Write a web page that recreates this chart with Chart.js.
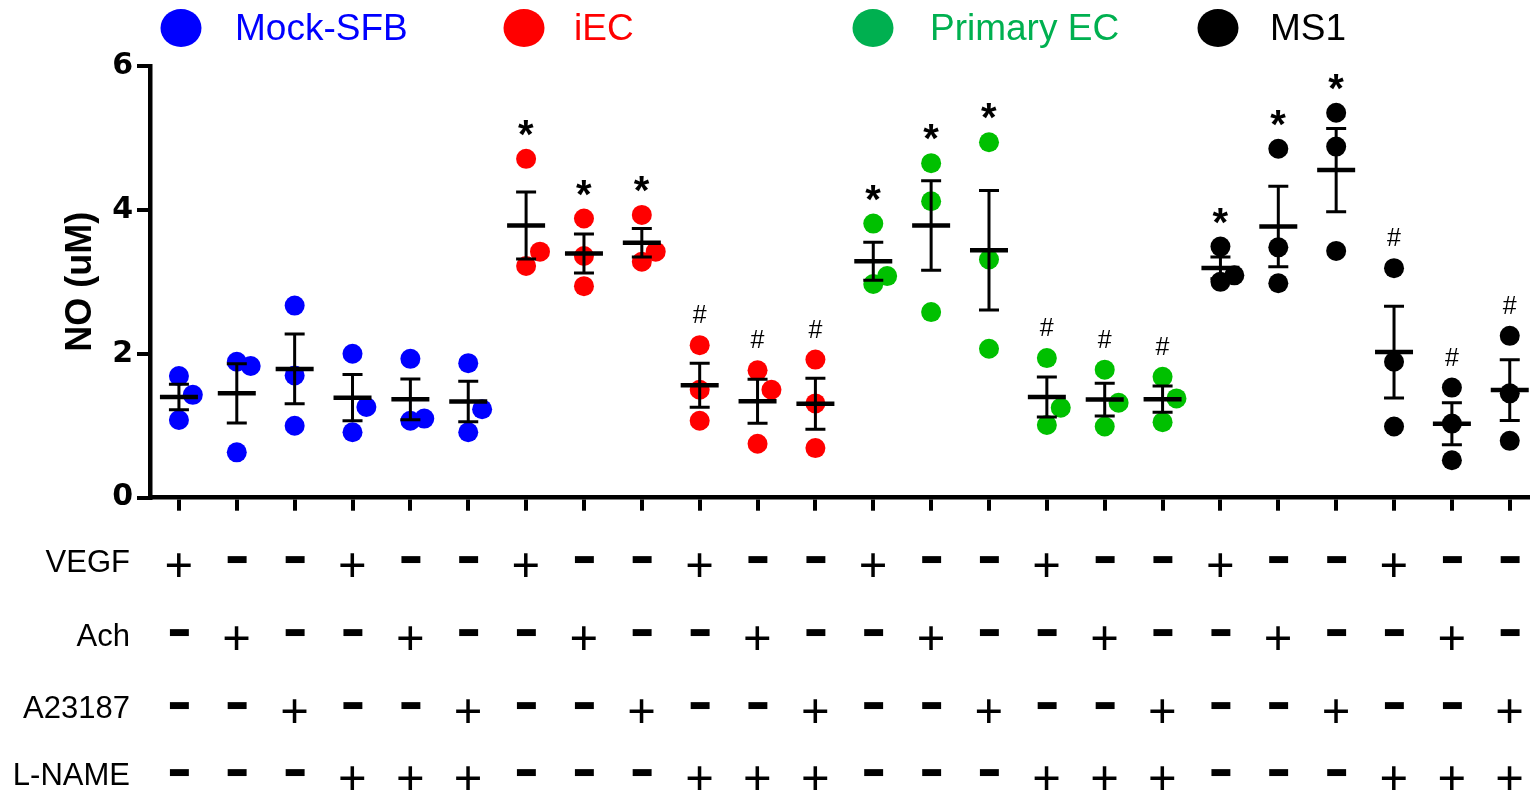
<!DOCTYPE html>
<html>
<head>
<meta charset="utf-8">
<title>NO production</title>
<script src="https://cdn.jsdelivr.net/npm/chart.js@4.4.1/dist/chart.umd.min.js"></script>
<style>
  html, body { margin: 0; padding: 0; background: #fff; overflow: hidden; }
  #wrap { width: 1530px; height: 791px; }
</style>
</head>
<body>
<div id="wrap"><canvas id="noChart" width="1530" height="791"></canvas></div>
<script>
// Cell types (one colour each)
const cellTypes = ['Mock-SFB', 'iEC', 'Primary EC', 'MS1'];
const dotColors = ['#0000ff', '#ff0000', '#00c000', '#000000'];
const legendColors = ['#0000ff', '#ff0000', '#00b050', '#000000'];

// NO (uM): 6 conditions x 3 replicates per cell type
const mockSFB   = [[1.69, 1.43, 1.08], [1.89, 1.83, 0.63], [2.67, 1.70, 1.00], [2.00, 0.91, 1.26], [1.93, 1.07, 1.10], [1.87, 0.91, 1.23]];
const iEC       = [[4.71, 3.22, 3.42], [3.88, 3.36, 2.94], [3.93, 3.28, 3.42], [2.12, 1.50, 1.07], [1.77, 1.50, 0.75], [1.92, 1.31, 0.69]];
const primaryEC = [[3.81, 2.97, 3.08], [4.65, 4.12, 2.58], [4.94, 3.31, 2.07], [1.94, 1.01, 1.25], [1.78, 0.99, 1.32], [1.68, 1.05, 1.38]];
const ms1       = [[3.49, 3.00, 3.09], [4.85, 3.48, 2.98], [5.35, 4.88, 3.43], [3.19, 1.89, 0.99], [1.53, 1.03, 0.52], [2.25, 1.45, 0.79]];

// significance marks per condition (24 in total)
const signif = ['', '', '', '', '', '',
                '*', '*', '*', '#', '#', '#',
                '*', '*', '*', '#', '#', '#',
                '*', '*', '*', '#', '#', '#'];

// treatment table under the x axis
const treatments = ['VEGF', 'Ach', 'A23187', 'L-NAME'];
const vegf  = ['+','-','-','+','-','-', '+','-','-','+','-','-', '+','-','-','+','-','-', '+','-','-','+','-','-'];
const ach   = ['-','+','-','-','+','-', '-','+','-','-','+','-', '-','+','-','-','+','-', '-','+','-','-','+','-'];
const a23187 = ['-','-','+','-','-','+', '-','-','+','-','-','+', '-','-','+','-','-','+', '-','-','+','-','-','+'];
const lname = ['-','-','-','+','+','+', '-','-','-','+','+','+', '-','-','-','+','+','+', '-','-','-','+','+','+'];
const treatmentRows = [vegf, ach, a23187, lname];

const yTicks = [0, 2, 4, 6];

const series = [mockSFB, iEC, primaryEC, ms1];
const FONT = "'Liberation Sans', Arial, sans-serif";
const JITTER = 0.24;   // sideways step for overlapping dots (category units)
const OVERLAP = 0.38;  // values closer than this would overlap

// spread overlapping replicates sideways, like a column scatter plot
function placePoints(groups, offset) {
  const pts = [];
  groups.forEach((reps, g) => {
    const placed = [];
    reps.forEach(v => {
      const clash = placed.some(p => p.dx === 0 && Math.abs(p.y - v) < OVERLAP);
      const dx = clash ? JITTER : 0;
      placed.push({ y: v, dx: dx });
      pts.push({ x: offset + g + dx, y: v });
    });
  });
  return pts;
}

function meanSem(reps) {
  const n = reps.length;
  const m = reps.reduce((a, b) => a + b, 0) / n;
  const sd = Math.sqrt(reps.reduce((a, b) => a + (b - m) * (b - m), 0) / (n - 1));
  return { mean: m, sem: sd / Math.sqrt(n), max: Math.max(...reps) };
}

// draw text so that its ink is centred on (x, y)
function drawInk(ctx, text, x, y, sy) {
  ctx.textAlign = 'left';
  ctx.textBaseline = 'alphabetic';
  const m = ctx.measureText(text);
  const bx = x - (m.actualBoundingBoxRight - m.actualBoundingBoxLeft) / 2;
  const by = (m.actualBoundingBoxAscent - m.actualBoundingBoxDescent) / 2;
  ctx.save();
  ctx.translate(bx, y);
  if (sy) ctx.scale(1, sy);
  ctx.fillText(text, 0, by);
  ctx.restore();
}

const errorBars = {
  id: 'errorBars',
  afterDatasetsDraw(chart) {
    const ctx = chart.ctx;
    const xs = chart.scales.x, ys = chart.scales.y;
    ctx.save();
    ctx.strokeStyle = '#000';
    ctx.fillStyle = '#000';
    series.forEach((groups, c) => {
      groups.forEach((reps, g) => {
        const idx = c * 6 + g;
        const s = meanSem(reps);
        const x = xs.getPixelForValue(idx);
        const yTop = ys.getPixelForValue(s.mean + s.sem);
        const yBot = ys.getPixelForValue(s.mean - s.sem);
        const yMean = ys.getPixelForValue(s.mean);
        ctx.lineWidth = 3;
        ctx.beginPath();
        ctx.moveTo(x, yTop); ctx.lineTo(x, yBot);
        ctx.moveTo(x - 10, yTop); ctx.lineTo(x + 10, yTop);
        ctx.moveTo(x - 10, yBot); ctx.lineTo(x + 10, yBot);
        ctx.stroke();
        ctx.lineWidth = 4.5;
        ctx.beginPath();
        ctx.moveTo(x - 19, yMean); ctx.lineTo(x + 19, yMean);
        ctx.stroke();

        const mark = signif[idx];
        if (mark) {
          const yMark = ys.getPixelForValue(s.max) - 31;
          ctx.font = mark === '*' ? 'bold 40px ' + FONT : '25px ' + FONT;
          drawInk(ctx, mark, x, yMark);
        }
      });
    });
    ctx.restore();
  }
};

const legendX = [181, 524, 873, 1218];
const legendTextX = [235, 574, 930, 1270];

const topLegend = {
  id: 'topLegend',
  afterDraw(chart) {
    const ctx = chart.ctx;
    ctx.save();
    cellTypes.forEach((name, i) => {
      ctx.fillStyle = legendColors[i];
      ctx.beginPath();
      ctx.ellipse(legendX[i], 28, 20.5, 19, 0, 0, Math.PI * 2);
      ctx.fill();
      ctx.font = '37px ' + FONT;
      ctx.textAlign = 'left';
      ctx.textBaseline = 'alphabetic';
      ctx.fillText(name, legendTextX[i], 40);
    });
    ctx.restore();
  }
};

const rowY = [565, 638, 711, 778];

const treatmentTable = {
  id: 'treatmentTable',
  afterDraw(chart) {
    const ctx = chart.ctx;
    const xs = chart.scales.x;
    ctx.save();
    ctx.fillStyle = '#000';
    treatments.forEach((name, r) => {
      ctx.font = '31px ' + FONT;
      ctx.textAlign = 'right';
      ctx.textBaseline = 'alphabetic';
      const m = ctx.measureText(name);
      ctx.fillText(name, 130, rowY[r] - 4 + (m.actualBoundingBoxAscent - m.actualBoundingBoxDescent) / 2);
      treatmentRows[r].forEach((sign, i) => {
        const x = xs.getPixelForValue(i);
        if (sign === '+') {
          ctx.font = '49px ' + FONT;
          drawInk(ctx, '+', x, rowY[r]);
        } else {
          ctx.font = '39px ' + FONT;
          drawInk(ctx, '\u2212', x, rowY[r] - 6, 2.5);
        }
      });
    });
    ctx.restore();
  }
};

const axisStyle = {
  grid: { drawOnChartArea: false, tickLength: 13, lineWidth: 4, color: '#000', tickColor: '#000', tickWidth: 4 },
  border: { display: true, width: 4.5, color: '#000' }
};

new Chart(document.getElementById('noChart'), {
  type: 'scatter',
  data: {
    datasets: series.map((groups, c) => ({
      label: cellTypes[c],
      data: placePoints(groups, c * 6),
      backgroundColor: dotColors[c],
      borderWidth: 0,
      pointRadius: 10,
      pointHoverRadius: 10
    }))
  },
  options: {
    responsive: false,
    animation: false,
    devicePixelRatio: 1,
    layout: { autoPadding: false, padding: { top: 66, left: 0, right: 0, bottom: 0 } },
    plugins: { legend: { display: false }, tooltip: { enabled: false } },
    scales: {
      x: {
        type: 'linear', min: -0.5, max: 23.35,
        afterBuildTicks: s => { s.ticks = signif.map((_, i) => ({ value: i })); },
        afterFit: s => { s.height = 293.3; },
        ticks: { display: false },
        ...axisStyle
      },
      y: {
        min: 0, max: 6,
        afterBuildTicks: s => { s.ticks = yTicks.map(v => ({ value: v })); },
        afterFit: s => { s.width = 150; },
        ticks: { color: '#000', padding: 4, font: { family: "'DejaVu Sans', " + FONT, size: 30, weight: 'bold' } },
        title: {
          display: true, text: 'NO (uM)', color: '#000',
          font: { family: FONT, size: 36, weight: 'bold' },
          padding: { top: 59, bottom: 0 }
        },
        ...axisStyle
      }
    }
  },
  plugins: [errorBars, topLegend, treatmentTable]
});
</script>
</body>
</html>
